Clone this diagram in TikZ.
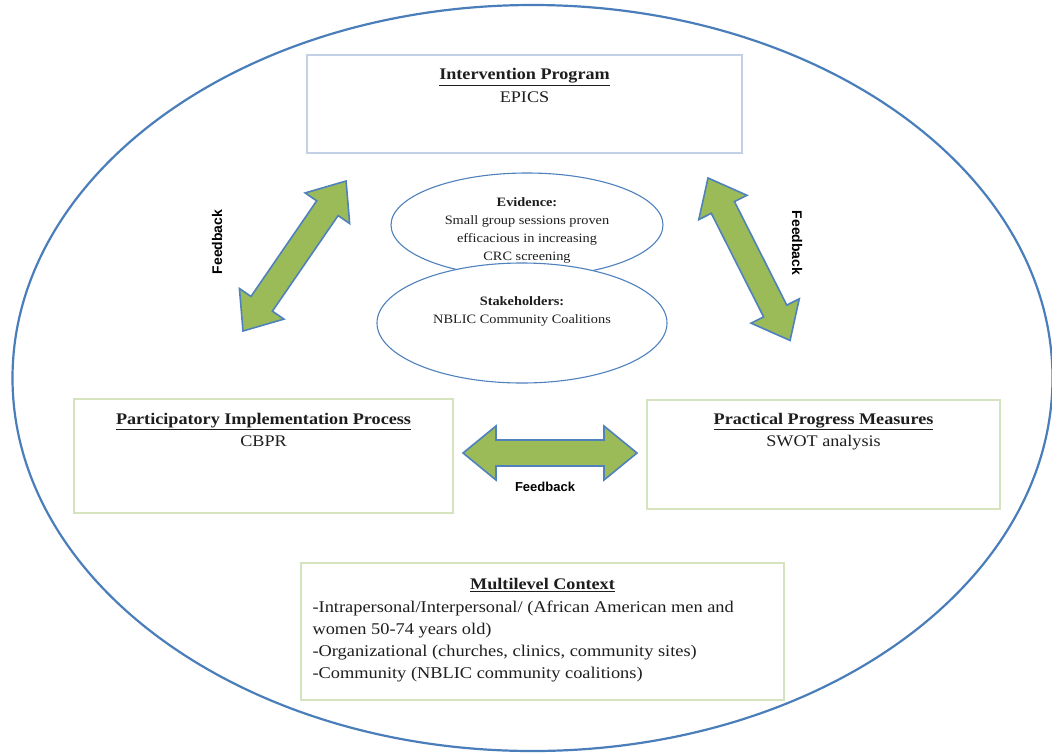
\documentclass[tikz,border=0pt]{standalone}
\usepackage{fontspec}
\setmainfont{Liberation Serif}[FakeStretch=1.12]
\newfontfamily\fbfont{Liberation Sans}
\definecolor{outerblue}{HTML}{4A7EBB}
\definecolor{boxblue}{HTML}{C3D1E6}
\definecolor{boxgreen}{HTML}{D5E3BF}
\definecolor{arrowgreen}{HTML}{9BBB59}
\definecolor{arrowblue}{HTML}{4F81BD}
\definecolor{txt}{HTML}{1E1E1E}
\tikzset{
  bluebox/.style={draw=boxblue, line width=1.3pt, fill=white},
  greenbox/.style={draw=boxgreen, line width=1.3pt, fill=white},
  ovalbox/.style={draw=arrowblue, line width=1.1pt, fill=white},
  fbarrow/.style={fill=arrowgreen, draw=arrowblue, line width=1.6pt, line join=miter},
  fblabel/.style={font=\fbfont\bfseries\fontsize{13}{15}\selectfont, text=black},
  boxtext/.style={font=\fontsize{16.2}{22.5}\selectfont, text=txt, align=center, anchor=north},
  ovaltext/.style={font=\fontsize{12.8}{18}\selectfont, text=txt, align=center}
}
\newcommand{\blockarrow}[3]{%
  \begin{scope}[shift={#1}, rotate=#2]
    \draw[fbarrow] (0,0) -- (33,27) -- (33,13) -- (#3-33,13) -- (#3-33,27) -- (#3,0)
      -- (#3-33,-27) -- (#3-33,-13) -- (33,-13) -- (33,-27) -- cycle;
  \end{scope}}
\begin{document}
\begin{tikzpicture}[x=1pt, y=-1pt]
\useasboundingbox (0,0) rectangle (1052,753);
\begin{scope}
\clip (0,0) rectangle (1052,753);
\fill[white] (0,0) rectangle (1052,753);
\draw[outerblue, line width=2.2pt] (532.5,378) ellipse [x radius=520, y radius=373];
\end{scope}

% boxes
\draw[bluebox] (307,55) rectangle (742,153);
\node[boxtext] (ip) at (524.5,65) {\textbf{\underline{Intervention Program}}\\EPICS};

\draw[greenbox] (74,399) rectangle (453,513);
\node[boxtext] (pip) at (263.5,409.5) {\textbf{\underline{Participatory Implementation Process}}\\CBPR};

\draw[greenbox] (647,400) rectangle (1000,509);
\node[boxtext] (ppm) at (823.5,409.5) {\textbf{\underline{Practical Progress Measures}}\\SWOT analysis};

\draw[greenbox] (301,563) rectangle (784,700);
\node[boxtext] (mc) at (542.5,574.5) {\textbf{\underline{Multilevel Context}}};
\node[font=\fontsize{16.4}{22}\selectfont, text=txt, align=left, anchor=north west] (mcb) at (309,597)
  {-Intrapersonal/Interpersonal/ (African American men and\\
   women 50-74 years old)\\
   -Organizational (churches, clinics, community sites)\\
   -Community (NBLIC community coalitions)};

% ellipses
\draw[ovalbox] (527,225) ellipse [x radius=136, y radius=52];
\node[ovaltext] (ev) at (527,230.5) {\textbf{Evidence:}\\Small group sessions proven\\efficacious in increasing\\CRC screening};
\draw[ovalbox] (522,323) ellipse [x radius=145, y radius=60];
\node[ovaltext] (st) at (522,311) {\textbf{Stakeholders:}\\NBLIC Community Coalitions};

% feedback arrows
\blockarrow{(243,331)}{55.5}{182}
\blockarrow{(708,178)}{-63.2}{182}
\blockarrow{(463,453)}{0}{174}

\node[fblabel, rotate=90, font=\fbfont\bfseries\fontsize{14}{16}\selectfont] (fb1) at (217,242) {Feedback};
\node[fblabel, rotate=-90, font=\fbfont\bfseries\fontsize{14}{16}\selectfont] (fb2) at (797,243) {Feedback};
\node[fblabel] (fb3) at (545,487) {Feedback};
\end{tikzpicture}
\end{document}
